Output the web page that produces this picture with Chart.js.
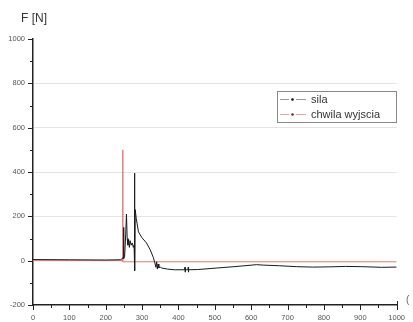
<!DOCTYPE html>
<html>
<head>
<meta charset="utf-8">
<script src="https://cdn.jsdelivr.net/npm/chart.js@4.4.0/dist/chart.umd.min.js"></script>
<style>
  html, body { margin: 0; padding: 0; background: #fff; }
  #wrap { width: 413px; height: 322px; }
</style>
</head>
<body>
<div id="wrap"><canvas id="chart" width="413" height="322"></canvas></div>
<script>
// force (sila) - black trace
const silaX = [0, 100, 200, 240, 245, 248, 249, 250, 252, 255, 257, 259, 261, 263, 265, 267, 270, 273, 276, 278,
    279, 280, 281, 284, 290, 299, 312, 322, 331, 335, 338, 340, 342, 344, 346, 350, 353, 370, 389,
    417, 418, 418.5, 419, 426, 427, 427.5, 428, 453, 507, 561, 615, 633, 678, 724, 769, 815, 859, 904, 958, 1000];
const silaY = [5, 4, 3, 4, 8, 15, 150, 10, 20, 120, 210, 100, 70, 95, 60, 90, 70, 80, 60, 70,
    395, -45, 230, 190, 130, 105, 80, 50, 14, -10, -30, -5, -38, -15, -32, -28, -33, -38, -41,
    -41, -30, -52, -41, -41, -30, -52, -41, -40, -33, -26, -18, -20, -23, -27, -29, -28, -26, -27, -30, -29];

// exit moment (chwila wyjscia) - red trace
const wyjX = [0, 247, 247, 247, 1000];
const wyjY = [0, 0, 500, -5, -5];

const xTicks = [0, 100, 200, 300, 400, 500, 600, 700, 800, 900, 1000];
const yTicks = [-200, 0, 200, 400, 600, 800, 1000];

const toPoints = (xs, ys) => xs.map((x, i) => ({ x: x, y: ys[i] }));

const FONT = '"Liberation Sans", Arial, sans-serif';

// tick marks, title and boxed legend, drawn like the original plot
const decorPlugin = {
    id: 'decor',
    afterDraw(chart) {
        const ctx = chart.ctx;
        const xs = chart.scales.x;
        const ys = chart.scales.y;
        const area = chart.chartArea;
        ctx.save();
        ctx.strokeStyle = '#222';
        ctx.lineWidth = 1;
        // x ticks (major every 100, minor every 50)
        for (let v = 0; v <= 1000; v += 50) {
            const px = Math.round(xs.getPixelForValue(v)) + 0.5;
            const len = v % 100 === 0 ? 5 : 3;
            ctx.beginPath();
            ctx.moveTo(px, area.bottom);
            ctx.lineTo(px, area.bottom + len);
            ctx.stroke();
        }
        // end tick pointing up
        ctx.beginPath();
        ctx.moveTo(Math.round(area.right) + 0.5, area.bottom);
        ctx.lineTo(Math.round(area.right) + 0.5, area.bottom - 4);
        ctx.stroke();
        // y ticks (major every 200, minor every 100)
        for (let v = -200; v <= 1000; v += 100) {
            const py = Math.round(ys.getPixelForValue(v)) + 0.5;
            const len = v % 200 === 0 ? 5 : 3;
            ctx.beginPath();
            ctx.moveTo(area.left, py);
            ctx.lineTo(area.left - len, py);
            ctx.stroke();
        }
        // axis title
        ctx.fillStyle = '#333';
        ctx.font = '12px ' + FONT;
        ctx.textBaseline = 'alphabetic';
        ctx.textAlign = 'left';
        ctx.fillText('F [N]', 21, 22);
        // clipped x title at the right edge
        ctx.font = '10px ' + FONT;
        ctx.fillStyle = '#666';
        ctx.fillText('(', 406, 303);
        // legend box
        const bx = 277.5, by = 91.5, bw = 119, bh = 31;
        ctx.fillStyle = '#fff';
        ctx.fillRect(bx, by, bw, bh);
        ctx.strokeStyle = '#888';
        ctx.strokeRect(bx, by, bw, bh);
        const entries = [
            { label: 'sila', line: '#999', dot: '#111', y: 99.5 },
            { label: 'chwila wyjscia', line: '#e9a3a3', dot: '#8b1a1a', y: 114.5 }
        ];
        entries.forEach(e => {
            ctx.strokeStyle = e.line;
            ctx.beginPath();
            ctx.moveTo(280, e.y);
            ctx.lineTo(289, e.y);
            ctx.moveTo(296, e.y);
            ctx.lineTo(306, e.y);
            ctx.stroke();
            ctx.fillStyle = e.dot;
            ctx.beginPath();
            ctx.arc(292.5, e.y, 1.3, 0, Math.PI * 2);
            ctx.fill();
            ctx.fillStyle = '#333';
            ctx.font = '11px ' + FONT;
            ctx.textBaseline = 'middle';
            ctx.fillText(e.label, 311, e.y + 0.5);
        });
        ctx.restore();
    }
};

new Chart(document.getElementById('chart'), {
    type: 'scatter',
    data: {
        datasets: [
            {
                label: 'sila',
                data: toPoints(silaX, silaY),
                showLine: true,
                borderColor: '#1a1a1a',
                borderWidth: 1,
                pointRadius: 0,
                tension: 0
            },
            {
                label: 'chwila wyjscia',
                data: toPoints(wyjX, wyjY),
                showLine: true,
                borderColor: '#e07a7a',
                borderWidth: 1,
                pointRadius: 0,
                tension: 0
            }
        ]
    },
    options: {
        responsive: false,
        animation: false,
        layout: { padding: { top: 39, right: 11, left: 0, bottom: 0 } },
        plugins: {
            legend: { display: false },
            tooltip: { enabled: false }
        },
        scales: {
            x: {
                type: 'linear',
                min: 0,
                max: 1000,
                afterFit: function(scale) { scale.height = 17; },
                afterBuildTicks: function(scale) { scale.ticks = xTicks.map(v => ({ value: v })); },
                border: { display: true, color: '#222', width: 1.5 },
                grid: { display: false, drawTicks: false },
                ticks: {
                    padding: 8,
                    color: '#555',
                    font: { family: FONT, size: 7.5 },
                    maxRotation: 0,
                    autoSkip: false,
                    callback: function(value) { return String(value); }
                }
            },
            y: {
                type: 'linear',
                min: -200,
                max: 1000,
                afterFit: function(scale) { scale.width = 33; },
                afterBuildTicks: function(scale) { scale.ticks = yTicks.map(v => ({ value: v })); },
                border: { display: true, color: '#222', width: 1.5 },
                grid: {
                    drawTicks: false,
                    color: function(c) {
                        const v = c.tick ? c.tick.value : 0;
                        return (v > 0 && v < 1000) ? '#e4e4e4' : 'rgba(0,0,0,0)';
                    },
                    lineWidth: 1
                },
                ticks: {
                    padding: 8,
                    color: '#555',
                    font: { family: FONT, size: 7.5 },
                    autoSkip: false,
                    callback: function(value) { return String(value); }
                }
            }
        }
    },
    plugins: [decorPlugin]
});
</script>
</body>
</html>
